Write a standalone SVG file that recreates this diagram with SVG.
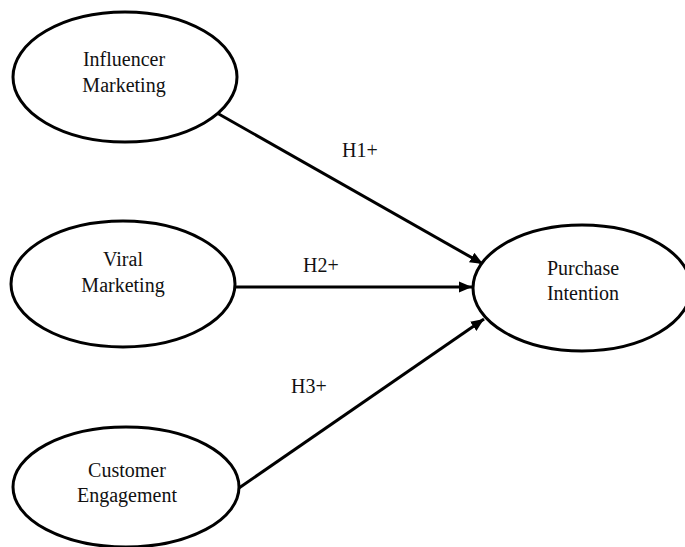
<svg xmlns="http://www.w3.org/2000/svg" width="685" height="547" viewBox="0 0 685 547">
<defs>
<style>
.node ellipse{fill:#fff;stroke:#000;stroke-width:3}
.lbl{font-family:"Liberation Serif","Times New Roman",serif;font-size:20px;fill:#111;text-anchor:middle}
.edge{stroke:#000;stroke-width:3;fill:none}
.hl{font-family:"Liberation Serif","Times New Roman",serif;font-size:20px;fill:#111}
</style>
<marker id="arr" markerUnits="userSpaceOnUse" markerWidth="14" markerHeight="12" refX="13" refY="5.5" orient="auto" viewBox="0 0 14 11">
<path d="M0,0 L13,5.5 L0,11 Z" fill="#000"/>
</marker>
</defs>
<rect width="685" height="547" fill="#fff"/>
<g id="connectors">
<line class="edge" x1="217" y1="113" x2="483" y2="264" marker-end="url(#arr)"/>
<line class="edge" x1="235" y1="287" x2="472" y2="287" marker-end="url(#arr)"/>
<line class="edge" x1="239" y1="488" x2="484" y2="319" marker-end="url(#arr)"/>
<text class="hl" x="342" y="157">H1+</text>
<text class="hl" x="303" y="272">H2+</text>
<text class="hl" x="291" y="393">H3+</text>
</g>
<g id="influencer" class="node">
<ellipse cx="125" cy="77" rx="112" ry="65"/>
<text class="lbl" x="124" y="66">Influencer</text>
<text class="lbl" x="124" y="92">Marketing</text>
</g>
<g id="viral" class="node">
<ellipse cx="123" cy="284" rx="112" ry="63"/>
<text class="lbl" x="123" y="266">Viral</text>
<text class="lbl" x="123" y="292">Marketing</text>
</g>
<g id="customer" class="node">
<ellipse cx="126" cy="487" rx="113" ry="60"/>
<text class="lbl" x="127" y="477">Customer</text>
<text class="lbl" x="127" y="502">Engagement</text>
</g>
<g id="purchase" class="node">
<ellipse cx="582" cy="288" rx="109" ry="63"/>
<text class="lbl" x="583" y="275">Purchase</text>
<text class="lbl" x="583" y="300">Intention</text>
</g>
</svg>
